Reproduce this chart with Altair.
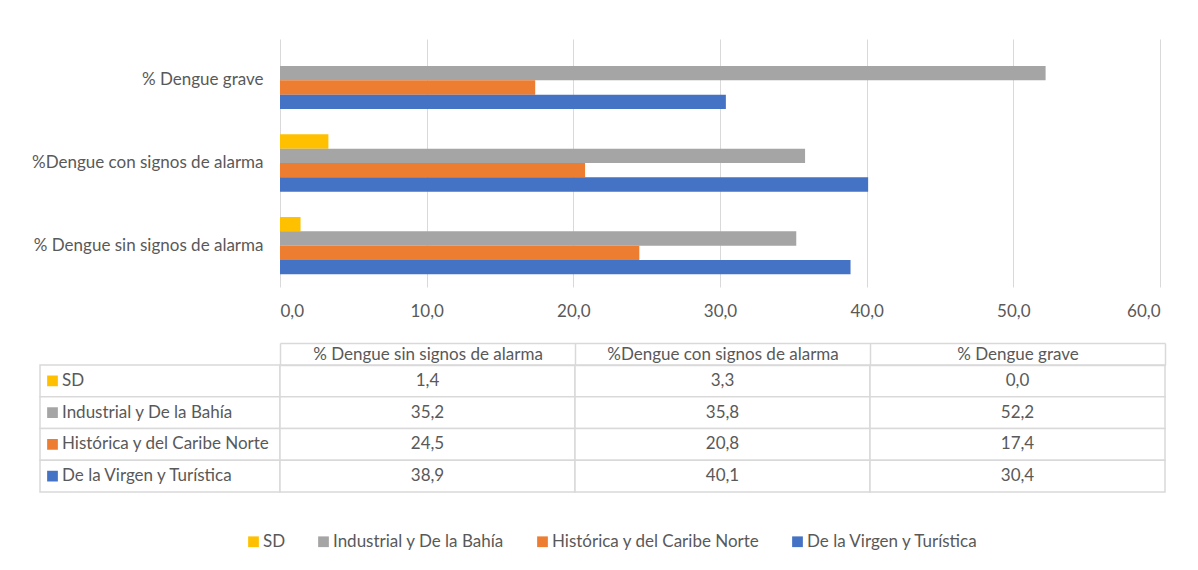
import altair as alt
import pandas as pd

categories = ["% Dengue sin signos de alarma", "%Dengue con signos de alarma", "% Dengue grave"]
series = ["SD", "Industrial y De la Bahía", "Histórica y del Caribe Norte", "De la Virgen y Turística"]
sd = [1.4, 3.3, 0.0]
industrial = [35.2, 35.8, 52.2]
historica = [24.5, 20.8, 17.4]
virgen = [38.9, 40.1, 30.4]
colors = ["#FFC000", "#A5A5A5", "#ED7D31", "#4472C4"]
x_ticks = [0, 10, 20, 30, 40, 50, 60]

rows = []
for s, vals in zip(series, [sd, industrial, historica, virgen]):
    for c, v in zip(categories, vals):
        rows.append({"serie": s, "categoria": c, "valor": v})
df = pd.DataFrame(rows)
labels_df = pd.DataFrame({"serie": series, "col": ["rótulo"] * len(series)})
spacer_df = pd.DataFrame({"v": []})

FONT = "Lato"
TXT = "#595959"
GRID = "#D9D9D9"
FS = 17
comma_fmt = "replace(format(datum.value, '.1f'), '.', ',')"

color_scale = alt.Scale(domain=series, range=colors)
legend = alt.Legend(
    title=None, orient="none", legendX=205, legendY=494, direction="horizontal",
    columns=4, symbolType="square", symbolSize=115, symbolStrokeWidth=0,
    labelFont=FONT, labelFontSize=FS, labelColor=TXT, columnPadding=29,
    labelOffset=1, padding=0, labelLimit=400,
)

bars = alt.Chart(df).mark_bar().encode(
    x=alt.X(
        "valor:Q",
        scale=alt.Scale(domain=[0, 60], nice=False),
        axis=alt.Axis(
            values=x_ticks, labelExpr=comma_fmt, title=None, domain=False,
            ticks=False, tickSize=0, grid=True, gridColor=GRID, gridWidth=1,
            labelPadding=16, labelFont=FONT, labelFontSize=FS, labelColor=TXT,
        ),
    ),
    y=alt.Y(
        "categoria:N",
        sort=categories[::-1],
        scale=alt.Scale(paddingInner=0.307, paddingOuter=0.153),
        axis=alt.Axis(
            title=None, domain=False, ticks=False, tickSize=0, labelPadding=17,
            labelFont=FONT, labelFontSize=FS, labelColor=TXT, labelLimit=400,
        ),
    ),
    yOffset=alt.YOffset("serie:N", sort=series, scale=alt.Scale(paddingInner=0, paddingOuter=0)),
    color=alt.Color("serie:N", scale=color_scale, legend=legend),
).properties(width=880, height=248)

spacer = alt.Chart(spacer_df).mark_point(opacity=0).properties(width=240, height=248)

# row-label column of the data table
lab_y = alt.Y("serie:N", sort=series, scale=alt.Scale(paddingInner=0, paddingOuter=0), axis=None)
lab_x_scale = alt.Scale(paddingInner=0, paddingOuter=0)
lab_cells = alt.Chart(labels_df).mark_rect(fill="white", stroke=GRID, strokeWidth=1.5).encode(
    x=alt.X("col:N", axis=None, scale=lab_x_scale), y=lab_y
)
lab_sq = alt.Chart(labels_df).mark_square(size=115, xOffset=12.5, opacity=1).encode(
    x=alt.X("col:N", axis=None, scale=lab_x_scale, bandPosition=0),
    y=lab_y,
    color=alt.Color("serie:N", scale=color_scale, legend=legend),
)
lab_txt = alt.Chart(labels_df).mark_text(
    align="left", dx=22, font=FONT, fontSize=FS, color=TXT
).encode(
    x=alt.X("col:N", axis=None, scale=lab_x_scale, bandPosition=0),
    y=lab_y,
    text="serie:N",
)
labelcol = alt.layer(lab_cells, lab_sq, lab_txt).properties(width=240, height=127)

# value columns of the data table
tab_y = alt.Y("serie:N", sort=series, scale=alt.Scale(paddingInner=0, paddingOuter=0), axis=None)
tab_x_scale = alt.Scale(paddingInner=0, paddingOuter=0)
header_axis = alt.Axis(
    orient="top", title=None, labelAngle=0, labelFont=FONT, labelFontSize=FS,
    labelColor=TXT, labelBaseline="middle", labelPadding=-11, tickBand="extent",
    tickSize=22, tickColor=GRID, tickWidth=1.5, domainColor=GRID, domainWidth=1.5,
    labelLimit=400, grid=False,
)
border_axis = alt.Axis(
    orient="top", title=None, offset=22, labels=False, ticks=False,
    domain=True, domainColor=GRID, domainWidth=1.5, grid=False,
)
tab_cells = alt.Chart(df).mark_rect(fill="white", stroke=GRID, strokeWidth=1.5).encode(
    x=alt.X("categoria:N", sort=categories, scale=tab_x_scale, axis=header_axis),
    y=tab_y,
)
tab_txt = alt.Chart(df).transform_calculate(
    etiqueta="replace(format(datum.valor, '.1f'), '.', ',')"
).mark_text(font=FONT, fontSize=FS, color=TXT).encode(
    x=alt.X("categoria:N", sort=categories, scale=tab_x_scale, axis=border_axis),
    y=tab_y,
    text="etiqueta:N",
)
datacols = alt.layer(tab_cells, tab_txt).resolve_axis(x="independent").properties(width=885, height=127)

chart = alt.concat(
    spacer, bars, labelcol, datacols,
    columns=2, spacing={"row": 78, "column": 0}, bounds="flush", align="each",
).properties(
    padding={"left": 23, "top": 31, "right": 10, "bottom": 10}
).configure(font=FONT).configure_view(stroke=None)

chart.save("out.html", embed_options={"renderer": "svg", "actions": False})
